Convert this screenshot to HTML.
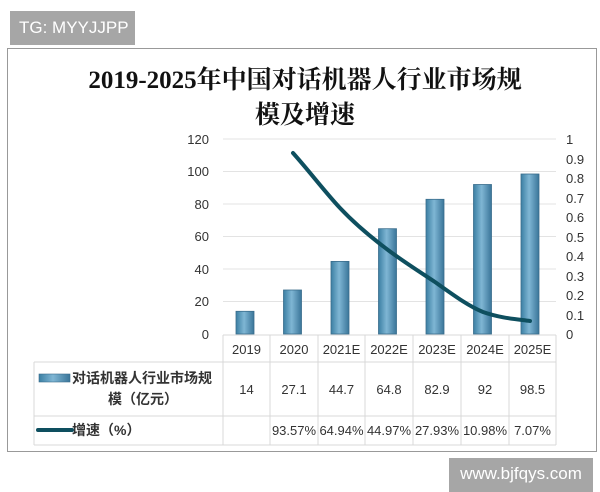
<!DOCTYPE html>
<html><head><meta charset="utf-8"><style>
body{margin:0;width:600px;height:480px;background:#fff;position:relative;overflow:hidden;font-family:"Liberation Sans","Noto Sans CJK SC",sans-serif}
.tg{position:absolute;left:10px;top:11px;width:125px;height:34px;background:#a6a6a6;color:#fff;font-size:17px;line-height:34px;text-indent:9px}
.wm{position:absolute;left:449px;top:458px;width:144px;height:34px;background:#a6a6a6;color:#fff;font-size:17px;line-height:32px;text-align:center}
.frame{position:absolute;left:7px;top:48px;width:590px;height:404px;border:1px solid #999;box-sizing:border-box}
.title{position:absolute;left:0;top:63px;width:610px;text-align:center;font-family:"Liberation Serif","Noto Serif CJK SC",serif;font-size:25px;line-height:35px;color:#111;font-weight:bold}
</style></head><body>
<div class="tg">TG: MYYJJPP</div>
<div class="frame"></div>
<div class="title">2019-2025年中国对话机器人行业市场规<br>模及增速</div>
<svg width="600" height="480" style="position:absolute;left:0;top:0" font-family="Liberation Sans, Noto Sans CJK SC, sans-serif">
<defs><linearGradient id="g" x1="0" x2="1"><stop offset="0" stop-color="#3b7fa3"/><stop offset="0.45" stop-color="#7fb6d4"/><stop offset="1" stop-color="#3a7599"/></linearGradient></defs>
<g stroke="#e3e3e3">
<line x1="223" x2="556" y1="139" y2="139"/><line x1="223" x2="556" y1="171.5" y2="171.5"/><line x1="223" x2="556" y1="204" y2="204"/><line x1="223" x2="556" y1="236.5" y2="236.5"/><line x1="223" x2="556" y1="269" y2="269"/><line x1="223" x2="556" y1="301.5" y2="301.5"/>
</g>
<g font-size="13" fill="#333" text-anchor="end">
<text x="209" y="144">120</text><text x="209" y="176">100</text><text x="209" y="209">80</text><text x="209" y="241">60</text><text x="209" y="274">40</text><text x="209" y="306">20</text><text x="209" y="339">0</text>
</g>
<g font-size="13" fill="#333">
<text x="566" y="144">1</text><text x="566" y="164">0.9</text><text x="566" y="183">0.8</text><text x="566" y="203">0.7</text><text x="566" y="222">0.6</text><text x="566" y="242">0.5</text><text x="566" y="261">0.4</text><text x="566" y="281">0.3</text><text x="566" y="300">0.2</text><text x="566" y="320">0.1</text><text x="566" y="339">0</text>
</g>
<g fill="url(#g)" stroke="#3a6d8c" stroke-width="0.8">
<rect x="236" y="311.3" width="18" height="22.7"/>
<rect x="283.5" y="290" width="18" height="44"/>
<rect x="331" y="261.4" width="18" height="72.6"/>
<rect x="378.5" y="228.7" width="18" height="105.3"/>
<rect x="426" y="199.3" width="18" height="134.7"/>
<rect x="473.5" y="184.5" width="18" height="149.5"/>
<rect x="521" y="174" width="18" height="160"/>
</g>
<path fill="none" stroke="#0e4f5f" stroke-width="4" stroke-linecap="round" d="M293,153 C310,172 325,192 340,208 C356,225 372,238 388,250 C404,262 420,272 435,282 C452,294 468,306 483,312 C500,318 515,319 530,321"/>
<g stroke="#d8d8d8" fill="none">
<line x1="223" x2="556" y1="335" y2="335"/><line x1="34" x2="556" y1="362" y2="362"/><line x1="34" x2="556" y1="416" y2="416"/><line x1="34" x2="556" y1="445" y2="445"/>
<line x1="34" x2="34" y1="362" y2="445"/>
<line x1="223" x2="223" y1="335" y2="445"/><line x1="270" x2="270" y1="335" y2="445"/><line x1="318" x2="318" y1="335" y2="445"/><line x1="365" x2="365" y1="335" y2="445"/><line x1="413" x2="413" y1="335" y2="445"/><line x1="461" x2="461" y1="335" y2="445"/><line x1="509" x2="509" y1="335" y2="445"/><line x1="556" x2="556" y1="335" y2="445"/>
</g>
<g font-size="13" fill="#333" text-anchor="middle">
<text x="246.5" y="354">2019</text><text x="294" y="354">2020</text><text x="341.5" y="354">2021E</text><text x="389" y="354">2022E</text><text x="437" y="354">2023E</text><text x="485" y="354">2024E</text><text x="532.5" y="354">2025E</text>
<text x="246.5" y="394">14</text><text x="294" y="394">27.1</text><text x="341.5" y="394">44.7</text><text x="389" y="394">64.8</text><text x="437" y="394">82.9</text><text x="485" y="394">92</text><text x="532.5" y="394">98.5</text>
<text x="294" y="435">93.57%</text><text x="341.5" y="435">64.94%</text><text x="389" y="435">44.97%</text><text x="437" y="435">27.93%</text><text x="485" y="435">10.98%</text><text x="532.5" y="435">7.07%</text>
</g>
<rect x="39" y="374" width="31" height="8" fill="url(#g)" stroke="#3a6d8c" stroke-width="0.6"/>
<line x1="38" x2="72" y1="430" y2="430" stroke="#0e4f5f" stroke-width="4" stroke-linecap="round"/>
<g font-size="14" font-weight="bold" fill="#333">
<text x="72" y="383">对话机器人行业市场规</text>
<text x="108" y="404">模（亿元）</text>
<text x="72" y="435">增速（%）</text>
</g>
</svg>
<div class="wm">www.bjfqys.com</div>
</body></html>
